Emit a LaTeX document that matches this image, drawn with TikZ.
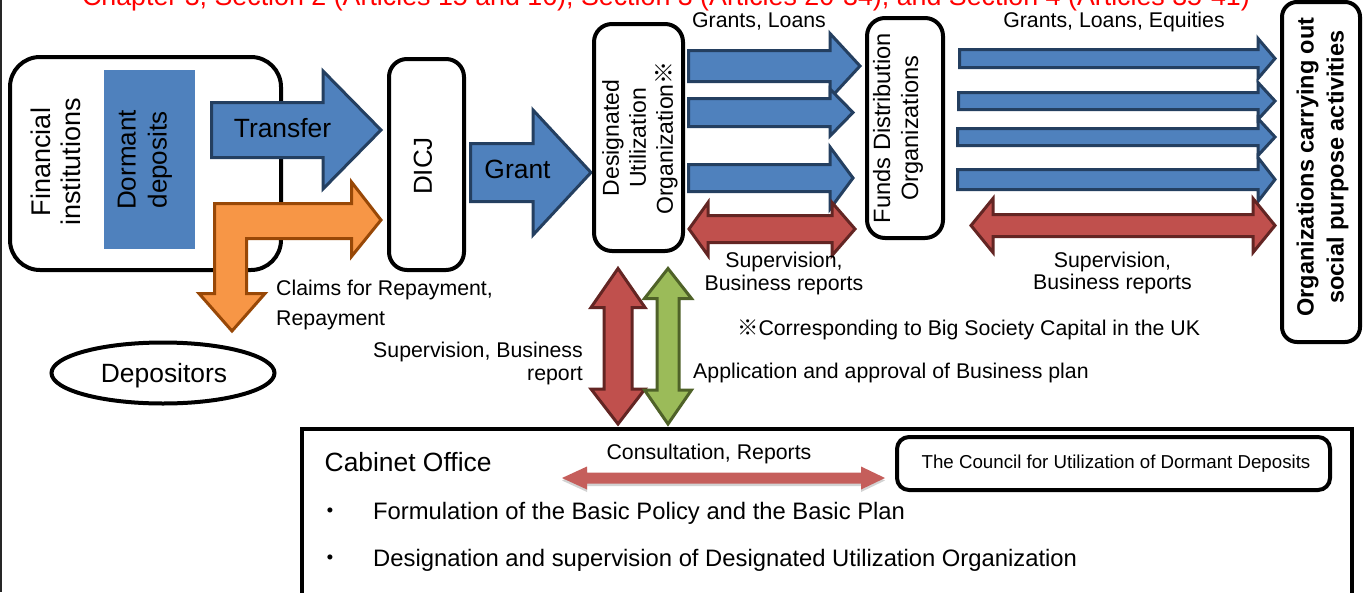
\documentclass[tikz,border=0pt]{standalone}
\usepackage{fontspec}
\setmainfont{Liberation Sans}
\newfontfamily\cjk{Noto Sans CJK JP}
\usetikzlibrary{calc,shapes.geometric,shadows}
\definecolor{bfill}{HTML}{4F81BD}
\definecolor{bline}{HTML}{243F60}
\definecolor{rfill}{HTML}{C0504D}
\definecolor{rline}{HTML}{632523}
\definecolor{gfill}{HTML}{9BBB59}
\definecolor{gline}{HTML}{4F6228}
\definecolor{ofill}{HTML}{F79646}
\definecolor{oline}{HTML}{984807}
% right-pointing block arrow: style, tail x, tip x, y, shaft half, head half, head length
\newcommand\RArrow[7]{\path[#1] (#2,#4-#5) -- (#3-#7,#4-#5) -- (#3-#7,#4-#6) -- (#3,#4) -- (#3-#7,#4+#6) -- (#3-#7,#4+#5) -- (#2,#4+#5) -- cycle;}
% horizontal double block arrow: style, left tip, right tip, y, shaft half, head half, left head len, right head len
\newcommand\HDArrow[8]{\path[#1] (#2,#4) -- (#2+#7,#4-#6) -- (#2+#7,#4-#5) -- (#3-#8,#4-#5) -- (#3-#8,#4-#6) -- (#3,#4) -- (#3-#8,#4+#6) -- (#3-#8,#4+#5) -- (#2+#7,#4+#5) -- (#2+#7,#4+#6) -- cycle;}
% vertical double block arrow: style, x, top tip, bottom tip, shaft half, head half, top head len, bottom head len
\newcommand\VDArrow[8]{\path[#1] (#2,#3) -- (#2+#6,#3+#7) -- (#2+#5,#3+#7) -- (#2+#5,#4-#8) -- (#2+#6,#4-#8) -- (#2,#4) -- (#2-#6,#4-#8) -- (#2-#5,#4-#8) -- (#2-#5,#3+#7) -- (#2-#6,#3+#7) -- cycle;}
\begin{document}
\begin{tikzpicture}[x=1pt,y=-1pt,line join=miter,
  box/.style={draw=black,line width=4pt,fill=white,inner sep=0pt},
  lbl/.style={inner sep=0pt,font=\fontsize{21.3}{25.5}\selectfont},
  big/.style={inner sep=0pt,font=\fontsize{26.4}{30}\selectfont},
  listtext/.style={inner sep=0pt,font=\fontsize{23.8}{28}\selectfont},
  barrow/.style={fill=bfill,draw=bline,line width=3pt},
  rarrow/.style={fill=rfill,draw=rline,line width=3pt},
  garrow/.style={fill=gfill,draw=gline,line width=3pt},
  oarrow/.style={fill=ofill,draw=oline,line width=3pt},
  cons/.style={fill=rfill!92!white,drop shadow={shadow xshift=0pt,shadow yshift=-2.5pt,opacity=0.35}},
]
\useasboundingbox (0,0) rectangle (1367,592);
\clip (0,0) rectangle (1367,592);
\fill[white] (0,0) rectangle (1367,592);
\draw[line width=2pt,black!85] (1,0) -- (1,592);

% title (cut at the top, as in the original)
\node[anchor=base,text=red,inner sep=0pt,font=\fontsize{26.8}{30}\selectfont] (title) at (666,5.5)
  {Chapter 3, Section 2 (Articles 15 and 16), Section 3 (Articles 20-34), and Section 4 (Articles 35-41)};

% financial institutions
\node[box,rounded corners=30pt,minimum width=271pt,minimum height=213pt] (fin) at (145.5,163.5) {};
\node[rotate=90,align=center,inner sep=0pt,font=\fontsize{27}{30}\selectfont] (fint) at (56,162) {Financial\\institutions};
\node[fill=bfill,minimum width=91pt,minimum height=179pt,inner sep=0pt] (dorm) at (149.5,159.5) {};
\node[rotate=90,align=center,inner sep=0pt,font=\fontsize{26}{31}\selectfont] (dormt) at (145,160) {Dormant\\deposits};

% Transfer arrow
\RArrow{barrow}{211.5}{381}{130}{27.5}{59}{58}
\node[big,anchor=base] (transfer) at (282.5,137) {Transfer};

% orange bent arrow (claims / repayment)
\path[oarrow] (214.5,203.5) -- (351.5,203.5) -- (351.5,182) -- (381,220) -- (351.5,256.5) -- (351.5,238.5)
  -- (246.5,238.5) -- (246.5,293.5) -- (265,293.5) -- (232,331) -- (199,293.5) -- (214.5,293.5) -- cycle;
\node[lbl,anchor=base west] (claims1) at (276,295) {Claims for Repayment,};
\node[lbl,anchor=base west] (claims2) at (276,325) {Repayment};

% depositors
\node[ellipse,draw,line width=4pt,minimum width=223pt,minimum height=61pt,inner sep=0pt] (dep) at (163,373) {};
\node[big,anchor=base] (dept) at (164,382) {Depositors};

% DICJ
\node[box,rounded corners=18pt,minimum width=75pt,minimum height=211pt] (dicj) at (426.5,164.5) {};
\node[rotate=90,inner sep=0pt,font=\fontsize{26}{30}\selectfont] (dicjt) at (423,166) {DICJ};

% Grant arrow
\RArrow{barrow}{470.5}{591}{172.5}{29}{62.5}{58}
\node[big,anchor=base] (grant) at (517.5,178) {Grant};

% Designated Utilization Organization
\node[box,rounded corners=18pt,minimum width=89pt,minimum height=227pt] (duo) at (638.5,137.5) {};
\node[rotate=90,align=center,inner sep=0pt,font=\fontsize{23}{27}\selectfont] (duot) at (640,138)
  {Designated\\Utilization\\Organization{\cjk ※}};

% arrows DUO -> FDO
\RArrow{barrow}{688.5}{860}{66}{15.5}{32.5}{30}
\RArrow{barrow}{688.5}{853}{112.5}{14}{23.5}{23}
\RArrow{barrow}{688.5}{853}{178}{13.5}{31}{23}
\HDArrow{rarrow}{689}{855}{229}{13.5}{26.5}{19}{23}
\node[lbl,anchor=base] (gl1) at (759,27) {Grants, Loans};
\node[lbl,anchor=base] (sup1a) at (784,267) {Supervision,};
\node[lbl,anchor=base] (sup1b) at (784,290) {Business reports};

% Funds Distribution Organizations
\node[box,rounded corners=18pt,minimum width=76pt,minimum height=220pt] (fdo) at (905,128) {};
\node[rotate=90,align=center,inner sep=0pt,font=\fontsize{23.6}{28}\selectfont] (fdot) at (898,128)
  {Funds Distribution\\Organizations};

% arrows FDO -> orgs
\RArrow{barrow}{959.5}{1275}{58.5}{9}{20}{17}
\RArrow{barrow}{958.5}{1275}{101}{8.5}{18.5}{17}
\RArrow{barrow}{957.5}{1275}{137}{8.5}{18.5}{17}
\RArrow{barrow}{957.5}{1275}{179.5}{10}{22}{17}
\HDArrow{rarrow}{971}{1275}{225.5}{11}{27}{22}{22}
\node[lbl,anchor=base] (gl2) at (1114,27) {Grants, Loans, Equities};
\node[lbl,anchor=base] (sup2a) at (1112.5,267) {Supervision,};
\node[lbl,anchor=base] (sup2b) at (1112.5,289) {Business reports};

% organizations carrying out social purpose activities
\node[box,rounded corners=15pt,minimum width=78pt,minimum height=340pt] (orgs) at (1321,172) {};
\node[rotate=90,align=center,inner sep=0pt,font=\fontsize{23.5}{30}\selectfont\bfseries] (orgst) at (1322.5,167)
  {Organizations carrying out\\social purpose activities};

% notes
\node[lbl,anchor=base west] (note) at (737,335) {{\cjk ※}Corresponding to Big Society Capital in the UK};
\node[lbl,anchor=base west] (appl) at (693,378) {Application and approval of Business plan};
\node[lbl,anchor=base east] (supl1) at (583,357) {Supervision, Business};
\node[lbl,anchor=base east] (supl2) at (583,380) {report};

% vertical arrows DUO <-> Cabinet Office
\VDArrow{rarrow}{618}{268.5}{424}{14}{27}{39}{35}
\VDArrow{garrow}{668}{268.5}{424}{11}{23.5}{30}{34}

% Cabinet Office
\node[draw,line width=4pt,minimum width=1050pt,minimum height=200pt,inner sep=0pt,anchor=north west] (cab) at (300,427) {};
\node[big,anchor=base west] (cabt) at (324.5,471) {Cabinet Office};
\node[box,rounded corners=12pt,minimum width=433pt,minimum height=53pt] (council) at (1113.5,463.5) {};
\node[inner sep=0pt,anchor=base,font=\fontsize{18.7}{22}\selectfont] (councilt) at (1116,468)
  {The Council for Utilization of Dormant Deposits};
\HDArrow{cons}{562}{885}{478}{5.5}{11.5}{25}{24}
\node[lbl,anchor=base] (consult) at (709,459) {Consultation, Reports};
\node[listtext,anchor=base] (b1) at (330,519) {\cjk ・};
\node[listtext,anchor=base west] (item1) at (373,519) {Formulation of the Basic Policy and the Basic Plan};
\node[listtext,anchor=base] (b2) at (330,566) {\cjk ・};
\node[listtext,anchor=base west] (item2) at (373,566) {Designation and supervision of Designated Utilization Organization};
\end{tikzpicture}
\end{document}
